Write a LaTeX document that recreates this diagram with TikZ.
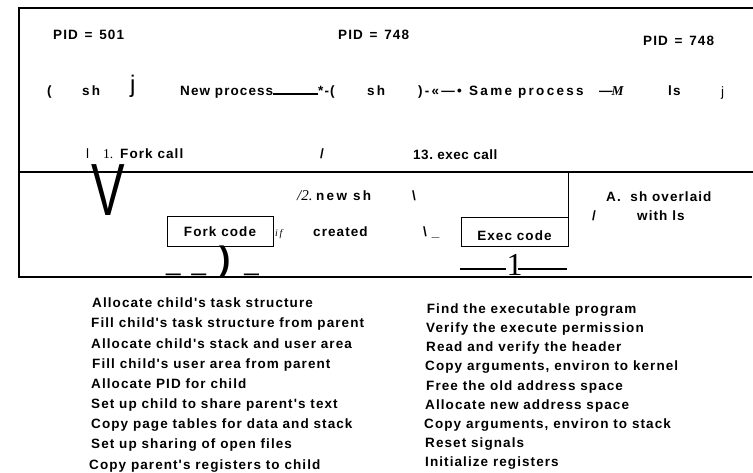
\documentclass[tikz,border=0pt]{standalone}
\usepackage{fontspec}
\usepackage{graphicx}
\newfontfamily\spacedsans[LetterSpace=8]{Liberation Sans}
\newfontfamily\widesans[LetterSpace=17]{Liberation Sans}
\newfontfamily\tightsans[LetterSpace=4]{Liberation Sans}
\newfontfamily\thinsans{Liberation Sans}
\newfontfamily\romfont{Liberation Serif}

\begin{document}
\begin{tikzpicture}[x=1pt,y=-1pt,
   lbl/.style={anchor=base west,inner sep=0pt,font=\spacedsans\bfseries\fontsize{13.5}{16}\selectfont},
   widelbl/.style={lbl,font=\widesans\bfseries\fontsize{13.5}{16}\selectfont},
   thinlbl/.style={anchor=base west,inner sep=0pt,font=\thinsans\fontsize{13.5}{16}\selectfont},
   romlbl/.style={anchor=base west,inner sep=0pt,font=\romfont\fontsize{13.5}{16}\selectfont},
   codebox/.style={draw,line width=0.9pt,inner sep=0pt,minimum height=29.5pt,text depth=0pt,
                   font=\spacedsans\bfseries\fontsize{13.5}{16}\selectfont},
   frame/.style={line width=1.2pt}]
   \useasboundingbox (0,0) rectangle (753,472);

   % outline
   \coordinate (tl) at (19,8);
   \coordinate (tr) at (753,8);
   \coordinate (ml) at (19,172);
   \coordinate (mr) at (753,172);
   \coordinate (bl) at (19,277);
   \coordinate (br) at (752,277);
   \draw[frame] (tr) -- (tl) -- (bl) -- (br);
   \draw[frame] (ml) -- (mr);

   \node[lbl] (pidA) at (53,39.5) {PID\hspace{2pt} = \hspace{2pt}501};
   \node[lbl] (pidB) at (338,39.5) {PID\hspace{2pt} = \hspace{2pt}748};
   \node[lbl] (pidC) at (643,45) {PID\hspace{2pt} = \hspace{2pt}748};

   \node[lbl] (lparen) at (47,95) {(};
   \node[widelbl] (shA) at (82,95) {sh};
   \node[thinlbl,font=\thinsans\fontsize{24}{26}\selectfont] (jA) at (130,92) {j};
   \node[lbl] (newproc) at (180,95) {New process};
   \node[lbl] (starparen) at (318,95) {*-(};
   \draw[line width=2pt] ([yshift=1.5pt]newproc.base east) -- ([yshift=1.5pt]starparen.base west);
   \node[widelbl] (shB) at (367,95) {sh};
   \node[lbl] (rparen) at (418,95) {)\,-\,{\thinsans«}\,—\,•};
   \node[widelbl] (sameproc) at (469,95) {Same process};
   \node[lbl] (mdash) at (599,95) {—\hspace{-1pt}{\romfont\itshape M}};
   \node[lbl] (lsA) at (668,95) {ls};
   \node[thinlbl] (jB) at (721,96) {j};

   \node[thinlbl] (barA) at (86,158) {l};
   \node[romlbl] (oneA) at (103,158) {1.};
   \node[lbl] (forkcall) at (120,158) {Fork call};
   \node[lbl] (slashA) at (320,158) {/};
   \node[lbl,font=\tightsans\bfseries\fontsize{13.5}{16}\selectfont] (execcall) at (413,159) {13.\ exec\ call};

   \node[anchor=base west,inner sep=0pt,font=\thinsans\fontsize{74}{74}\selectfont] (vee) at (91,215) {\scalebox{0.68}[1]{V}};

   \node[romlbl,font=\romfont\itshape\fontsize{15}{17}\selectfont] (twoA) at (297,200) {/2.};
   \node[widelbl] (newsh) at (316,200) {new\hspace{6pt}sh};
   \node[lbl] (bslashA) at (412,200) {\textbackslash};

   \node[codebox,minimum width=106pt,text height=9.5pt] (forkbox) at (220,231.5) {Fork code};
   \node[romlbl,font=\romfont\itshape\fontsize{10}{12}\selectfont] (iff) at (275,236) {i\,f};
   \node[lbl] (created) at (313,236.5) {created};
   \node[lbl] (bslashB) at (423,236) {\textbackslash\ \_};
   \node[codebox,minimum width=107pt,text height=17.5pt] (execbox) at (514.5,232) {Exec code};
   \draw[frame] (execbox.north east |- ml) -- (execbox.north east);

   \node[lbl] (overlaid) at (606,201.7) {A.\ \ sh overlaid};
   \node[lbl] (slashB) at (592,220.7) {/};
   \node[lbl] (withls) at (637,220.7) {with ls};

   \node[anchor=base west,inner sep=0pt] (tail) at (166,270)
      {\thinsans\fontsize{26}{26}\selectfont\_\hspace{11pt}\_\hspace{13pt}{\bfseries\fontsize{34}{34}\selectfont)}\hspace{14pt}\_};

   \node[anchor=base,inner sep=0pt,font=\romfont\fontsize{32}{32}\selectfont] (digit) at (514.5,275) {1};
   \coordinate (dashL) at (460,269.3);
   \coordinate (dashR) at (567,269.3);
   \draw[line width=2pt] (dashL) -- (digit.west |- dashL);
   \draw[line width=2pt] ([xshift=-5pt]digit.east |- dashR) -- (dashR);

   % fork steps
   \node[lbl] (forkA) at (92,307.7) {Allocate child's task structure};
   \node[lbl] (forkB) at (91,327.9) {Fill child's task structure from parent};
   \node[lbl] (forkC) at (91,348.0) {Allocate child's stack and user area};
   \node[lbl] (forkD) at (92,368.2) {Fill child's user area from parent};
   \node[lbl] (forkE) at (91,388.3) {Allocate PID for child};
   \node[lbl] (forkF) at (91,408.5) {Set up child to share parent's text};
   \node[lbl] (forkG) at (91,428.7) {Copy page tables for data and stack};
   \node[lbl] (forkH) at (91,448.8) {Set up sharing of open files};
   \node[lbl] (forkI) at (89,469.0) {Copy parent's registers to child};

   % exec steps
   \node[lbl] (execA) at (426.7,313.3) {Find the executable program};
   \node[lbl] (execB) at (426,332.5) {Verify the execute permission};
   \node[lbl] (execC) at (426,351.6) {Read and verify the header};
   \node[lbl] (execD) at (425,370.8) {Copy arguments, environ to kernel};
   \node[lbl] (execE) at (426,390.0) {Free the old address space};
   \node[lbl] (execF) at (425,409.2) {Allocate new address space};
   \node[lbl] (execG) at (424,428.3) {Copy arguments, environ to stack};
   \node[lbl] (execH) at (425,447.5) {Reset signals};
   \node[lbl] (execI) at (425,466.7) {Initialize registers};
\end{tikzpicture}
\end{document}
